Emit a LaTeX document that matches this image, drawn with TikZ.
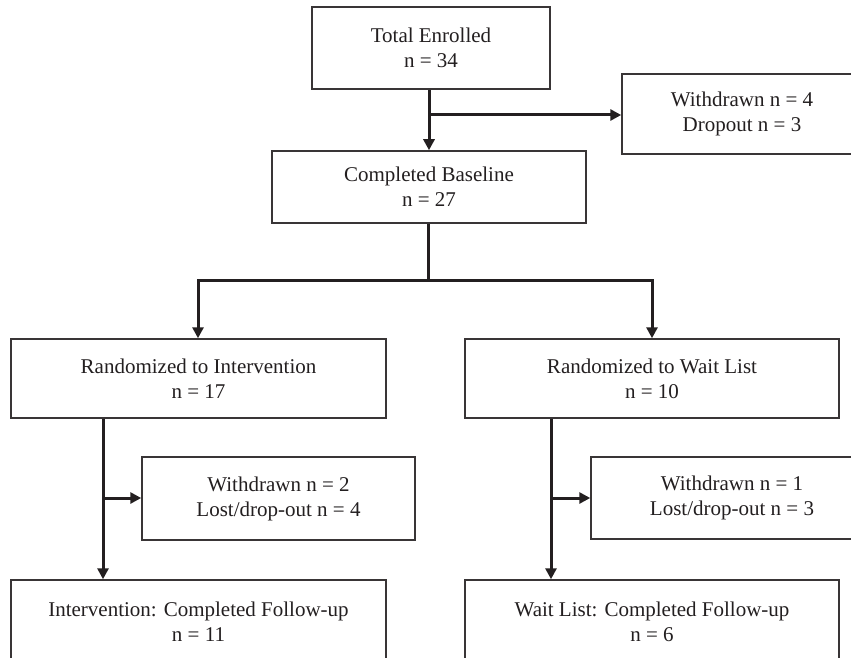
\documentclass[tikz,border=0pt]{standalone}
\usepackage{fontspec}
\setmainfont{Liberation Serif}
\usetikzlibrary{arrows.meta,calc}
\definecolor{ink}{HTML}{231F20}
\begin{document}
\begin{tikzpicture}[x=1pt,y=-1pt,
  box/.style={draw=ink!90, line width=1.5pt, rectangle, inner sep=0pt, align=center,
    text=ink, font=\fontsize{21}{25}\selectfont},
  conn/.style={draw=ink, line width=3pt, line join=miter},
  tip/.tip={Triangle[length=11pt,width=11pt]},
  arr/.style={conn, -tip}]
\useasboundingbox (0,0) rectangle (851,658);
\clip (0,0) rectangle (851,658);
\fill[white] (0,0) rectangle (851,658);

\node[box, minimum width=238pt, minimum height=82pt] (te) at (431,48) {Total Enrolled\\n = 34};
\node[box, minimum width=240pt, minimum height=80pt] (wd1) at (742,114) {Withdrawn n = 4\\Dropout n = 3};
\node[box, minimum width=314pt, minimum height=72pt] (cb) at (429,187) {Completed Baseline\\n = 27};
\node[box, minimum width=375pt, minimum height=79pt] (ri) at (198.5,378.5) {Randomized to Intervention\\n = 17};
\node[box, minimum width=374pt, minimum height=79pt] (rw) at (652,378.5) {Randomized to Wait List\\n = 10};
\node[box, minimum width=273pt, minimum height=83pt] (w2) at (278.5,498.5) {Withdrawn n = 2\\Lost/drop-out n = 4};
\node[box, minimum width=282pt, minimum height=82pt] (w3) at (732,498) {Withdrawn n = 1\\Lost/drop-out n = 3};
\node[box, minimum width=375pt, minimum height=84pt] (ci) at (198.5,622) {Intervention: Completed Follow-up\\n = 11};
\node[box, minimum width=374pt, minimum height=84pt] (cw) at (652,622) {Wait List: Completed Follow-up\\n = 6};

\coordinate (j1) at (429,115);
\coordinate (j2) at (428,280);
\coordinate (jl) at (198,280);
\coordinate (jr) at (652,280);
\coordinate (j3) at (103,498);
\coordinate (j4) at (551,498);

\draw[arr] (j1 |- te.south) -- (j1 |- cb.north);
\draw[arr] (j1) -- (wd1.west |- j1);
\draw[conn] (j2 |- cb.south) -- (j2);
\draw[conn, tip-tip] (jl |- ri.north) -- (jl) -- (jr) -- (jr |- rw.north);
\draw[arr] (j3 |- ri.south) -- (j3 |- ci.north);
\draw[arr] (j3) -- (w2.west |- j3);
\draw[arr] (j4 |- rw.south) -- (j4 |- cw.north);
\draw[arr] (j4) -- (w3.west |- j4);
\end{tikzpicture}
\end{document}
